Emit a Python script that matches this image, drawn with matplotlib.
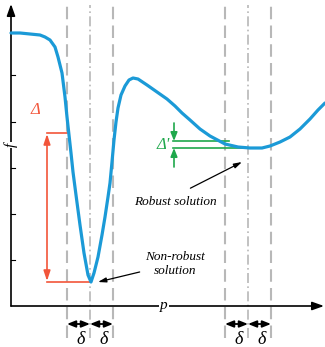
import matplotlib
matplotlib.use("Agg")
import matplotlib.pyplot as plt

# curve f(p) (origin at the axes corner)
curve_p = [0, 9, 19, 29, 34, 39, 44, 47, 51, 54, 56, 58, 60, 62, 65, 69, 73, 77, 80,
           83, 87, 91, 94, 97, 99, 101, 103, 105, 107, 110, 114, 118, 122, 127, 136,
           146, 156, 164, 171, 179, 189, 199, 214, 227, 239, 251, 259, 269, 279, 289,
           299, 307, 314]
curve_f = [273, 273, 272, 271, 269, 266, 259, 249, 233, 209, 189, 171, 153, 134, 111,
           81, 53, 31, 24, 33, 49, 71, 89, 109, 123, 144, 166, 184, 198, 211, 220, 226,
           228, 227, 221, 214, 207, 200, 193, 186, 177, 170, 162, 159, 158, 158, 160,
           164, 169, 177, 187, 196, 203]

# optimum positions and the +-delta bands around them
nonrobust_p, nonrobust_f = 79, 24
robust_p, robust_f = 237, 158
delta = 23
f_ticks = [46, 92, 138, 184, 231]

# worst values inside each band
nonrobust_worst = 173
robust_worst = 165

BLUE = "#1b9ad7"
RED = "#f2553a"
GREEN = "#1fa84c"
GRAY = "#b8b8b8"
serif = ["Liberation Serif", "DejaVu Serif"]

fig = plt.figure(figsize=(3.25, 3.47), dpi=100)
ax = fig.add_axes([0, 0, 1, 1])
ax.set_xlim(-11, 314)
ax.set_ylim(-41, 306)
ax.axis("off")

# axes with arrows
ax.annotate("", xy=(0, 302), xytext=(0, 0),
            arrowprops=dict(arrowstyle="-|>,head_length=0.7,head_width=0.25",
                            color="black", lw=1.2, shrinkA=0, shrinkB=0))
ax.annotate("", xy=(313, 0), xytext=(0, 0),
            arrowprops=dict(arrowstyle="-|>,head_length=0.7,head_width=0.25",
                            color="black", lw=1.2, shrinkA=0, shrinkB=0))
for t in f_ticks:
    ax.plot([0, 4], [t, t], color="black", lw=0.8)

ax.text(0, 161, "f", rotation=90, fontsize=11, style="italic", family=serif,
        ha="center", va="center", bbox=dict(facecolor="white", edgecolor="none", pad=0.5))
ax.text(153, 0, "p", fontsize=11, style="italic", family=serif, ha="center", va="center",
        bbox=dict(facecolor="white", edgecolor="none", pad=0.5))

# vertical guide lines
for c in (nonrobust_p, robust_p):
    ax.plot([c, c], [-32, 301], color=GRAY, lw=1.2, dashes=(6, 2, 1, 2))
    for s in (-1, 1):
        x = c + s * delta
        ax.plot([x, x], [-32, 301], color=GRAY, lw=1.5, dashes=(6, 3))
    # delta arrows
    for s in (-1, 1):
        ax.annotate("", xy=(c + s * delta, -18), xytext=(c, -18),
                    arrowprops=dict(arrowstyle="<|-|>,head_length=0.5,head_width=0.2",
                                    color="black", lw=1.3, shrinkA=0, shrinkB=0))
        ax.text(c + s * delta / 2 + 2, -33, "δ", fontsize=13, style="italic",
                family=serif, ha="center", va="center")

# the function
ax.plot(curve_p, curve_f, color=BLUE, lw=2.3, solid_joinstyle="round",
        solid_capstyle="round", zorder=5)

# red Delta for the non-robust solution
ax.plot([36, nonrobust_p - delta], [nonrobust_worst, nonrobust_worst], color=RED, lw=1.2)
ax.plot([36, nonrobust_p], [nonrobust_f, nonrobust_f], color=RED, lw=1.2)
ax.annotate("", xy=(36, nonrobust_worst - 1), xytext=(36, nonrobust_f + 1),
            arrowprops=dict(arrowstyle="<|-|>,head_length=0.6,head_width=0.2",
                            color=RED, lw=1.2, shrinkA=0, shrinkB=0))
ax.text(24, 196, "Δ", color=RED, fontsize=12, style="italic", family=serif,
        ha="center", va="center")

# green Delta' for the robust solution
ax.plot([162, robust_p - delta + 4], [robust_worst, robust_worst], color=GREEN, lw=1.2)
ax.plot([162, robust_p], [robust_f, robust_f], color=GREEN, lw=1.2)
ax.annotate("", xy=(163, robust_worst), xytext=(163, 183),
            arrowprops=dict(arrowstyle="-|>,head_length=0.5,head_width=0.2",
                            color=GREEN, lw=1.2, shrinkA=0, shrinkB=0))
ax.annotate("", xy=(163, robust_f), xytext=(163, 139),
            arrowprops=dict(arrowstyle="-|>,head_length=0.5,head_width=0.2",
                            color=GREEN, lw=1.2, shrinkA=0, shrinkB=0))
ax.text(152, 161, "Δ'", color=GREEN, fontsize=12, style="italic", family=serif,
        ha="center", va="center")

# labels with arrows
ax.annotate("Robust solution", xy=(robust_p - 6, robust_f - 14), xytext=(164, 104),
            fontsize=9.5, style="italic", family=serif, ha="center", va="center",
            arrowprops=dict(arrowstyle="-|>,head_length=0.5,head_width=0.15",
                            color="black", lw=0.9, shrinkA=8, shrinkB=0,
                            relpos=(0.5, 1.0)))
ax.annotate("Non-robust\nsolution", xy=(nonrobust_p + 8, nonrobust_f), xytext=(164, 42),
            fontsize=9.5, style="italic", family=serif, ha="center", va="center",
            linespacing=1.3,
            arrowprops=dict(arrowstyle="-|>,head_length=0.5,head_width=0.15",
                            color="black", lw=0.9, shrinkA=2, shrinkB=0,
                            relpos=(0.0, 0.25)))

fig.savefig("out.png", dpi=100)
